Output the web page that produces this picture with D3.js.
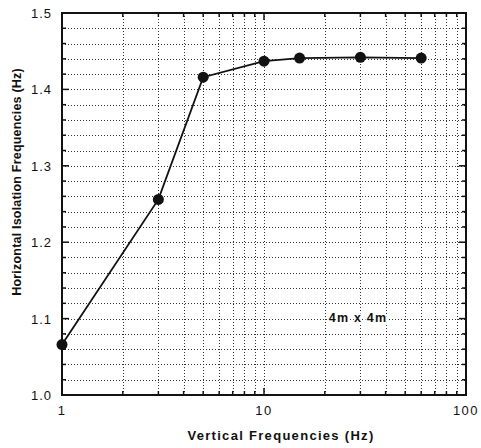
<!DOCTYPE html>
<html>
<head>
<meta charset="utf-8">
<script src="https://cdn.jsdelivr.net/npm/d3@7"></script>
<style>
  html, body { margin: 0; padding: 0; background: #fff; }
  svg { display: block; }
  text { font-family: "Liberation Sans", Arial, sans-serif; fill: #111; }
</style>
</head>
<body>
<svg id="chart" width="481" height="448"></svg>
<script>
// Vertical frequency (Hz) vs horizontal isolation frequency (Hz)
const verticalFreq = [1, 3, 5, 10, 15, 30, 60];
const isolationFreq = [1.066, 1.256, 1.416, 1.437, 1.441, 1.442, 1.441];
const xTickValues = [1, 10, 100];
const yTickValues = [1.0, 1.1, 1.2, 1.3, 1.4, 1.5];
const annotation = "4m x 4m";
const xTitle = "Vertical Frequencies (Hz)";
const yTitle = "Horizontal Isolation Frequencies (Hz)";

const svg = d3.select("#chart");
const margin = { left: 62, right: 15, top: 13, bottom: 53 };
const W = 481, H = 448;
const x0 = margin.left, x1 = W - margin.right;
const y0 = H - margin.bottom, y1 = margin.top;

const x = d3.scaleLog().domain([1, 100]).range([x0, x1]);
const y = d3.scaleLinear().domain([1.0, 1.5]).range([y0, y1]);

// minor positions: every integer within each decade, every 0.02 on y
const xMinor = [];
for (let d = 1; d < 100; d *= 10) for (let k = 2; k <= 9; k++) xMinor.push(d * k);
const yMinor = d3.range(1.0, 1.5001, 0.02).map(v => +v.toFixed(2));

const grid = svg.append("g").attr("stroke", "#333").attr("stroke-width", 1)
  .attr("stroke-dasharray", "1,2").attr("fill", "none");
grid.selectAll("line.gx").data(xMinor.concat([10])).join("line")
  .attr("x1", d => Math.round(x(d)) + 0.5).attr("x2", d => Math.round(x(d)) + 0.5)
  .attr("y1", y1).attr("y2", y0);
grid.selectAll("line.gy").data(yMinor.filter(v => v > 1.0 && v < 1.5)).join("line")
  .attr("class", "gy")
  .attr("y1", d => Math.round(y(d)) + 0.5).attr("y2", d => Math.round(y(d)) + 0.5)
  .attr("x1", x0).attr("x2", x1);

// inward tick marks on all four sides
const ticks = svg.append("g").attr("stroke", "#111").attr("stroke-width", 1.5);
const isMajorX = d => xTickValues.includes(d);
const xAll = xMinor.concat(xTickValues);
ticks.selectAll("line.tb").data(xAll).join("line").attr("class", "tb")
  .attr("x1", d => x(d)).attr("x2", d => x(d))
  .attr("y1", y0).attr("y2", d => y0 - (isMajorX(d) ? 7 : 4));
ticks.selectAll("line.tt").data(xAll).join("line").attr("class", "tt")
  .attr("x1", d => x(d)).attr("x2", d => x(d))
  .attr("y1", y1).attr("y2", d => y1 + (isMajorX(d) ? 7 : 4));
const isMajorY = d => Math.abs(d * 10 - Math.round(d * 10)) < 1e-6;
ticks.selectAll("line.tl").data(yMinor).join("line").attr("class", "tl")
  .attr("y1", d => y(d)).attr("y2", d => y(d))
  .attr("x1", x0).attr("x2", d => x0 + (isMajorY(d) ? 7 : 4));
ticks.selectAll("line.tr").data(yMinor).join("line").attr("class", "tr")
  .attr("y1", d => y(d)).attr("y2", d => y(d))
  .attr("x1", x1).attr("x2", d => x1 - (isMajorY(d) ? 7 : 4));

// frame
svg.append("rect").attr("x", x0).attr("y", y1).attr("width", x1 - x0).attr("height", y0 - y1)
  .attr("fill", "none").attr("stroke", "#111").attr("stroke-width", 2);

// tick labels
svg.append("g").selectAll("text").data(xTickValues).join("text")
  .attr("x", d => x(d)).attr("y", y0 + 20).attr("text-anchor", "middle")
  .attr("font-size", 13).attr("letter-spacing", 1.5).text(d => d3.format("d")(d));
svg.append("g").selectAll("text").data(yTickValues).join("text")
  .attr("x", x0 - 10).attr("y", d => y(d) + 5).attr("text-anchor", "end")
  .attr("font-size", 13).attr("letter-spacing", 1).text(d => d3.format(".1f")(d));

// axis titles
svg.append("text").attr("x", 281).attr("y", 440).attr("text-anchor", "middle")
  .attr("font-size", 13).attr("font-weight", "bold").attr("letter-spacing", 1.3).text(xTitle);
svg.append("text").attr("transform", "translate(21,182) rotate(-90)")
  .attr("text-anchor", "middle").attr("font-size", 12.5).attr("font-weight", "bold")
  .attr("letter-spacing", 0.2).text(yTitle);

// data line and markers
const pts = verticalFreq.map((v, i) => [v, isolationFreq[i]]);
svg.append("path").datum(pts)
  .attr("d", d3.line().x(d => x(d[0])).y(d => y(d[1])))
  .attr("fill", "none").attr("stroke", "#111").attr("stroke-width", 1.8);
svg.append("g").selectAll("circle").data(pts).join("circle")
  .attr("cx", d => x(d[0])).attr("cy", d => y(d[1])).attr("r", 5.5).attr("fill", "#111");

// annotation
svg.append("text").attr("x", 358).attr("y", 322).attr("text-anchor", "middle")
  .attr("font-size", 12.5).attr("font-weight", "bold").attr("letter-spacing", 1.2)
  .attr("stroke", "#fff").attr("stroke-width", 3)
  .attr("paint-order", "stroke").text(annotation);
</script>
</body>
</html>
